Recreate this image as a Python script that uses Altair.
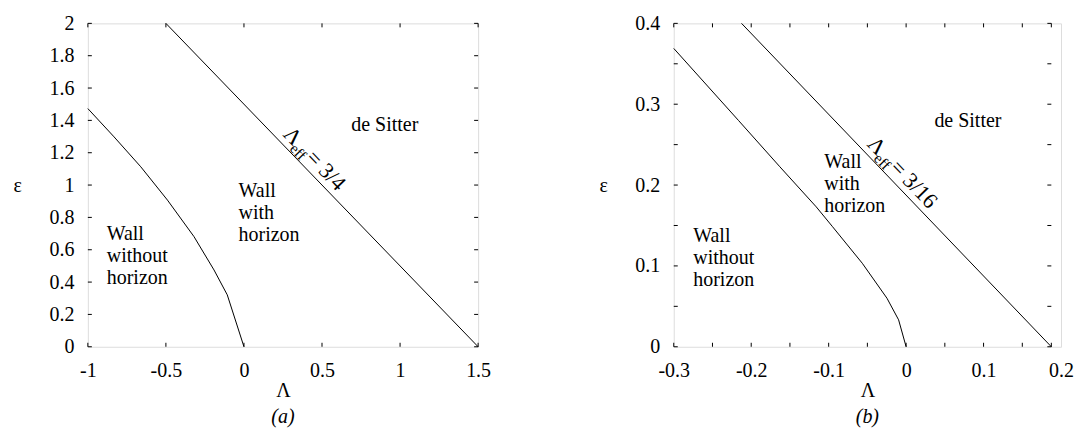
import altair as alt
import pandas as pd

F = "Liberation Serif, Times New Roman, Times, DejaVu Serif, serif"
FS = 20

# ---------------- Panel (a) data ----------------
a_curve_lam = [-1.0, -0.832, -0.661, -0.490, -0.320, -0.192, -0.107, 0.0]
a_curve_eps = [1.473, 1.298, 1.113, 0.907, 0.681, 0.475, 0.321, 0.0]
a_eff_lam = [-0.5, 1.5]
a_eff_eps = [2.0, 0.0]
a_xdom = [-1.0, 1.5]
a_ydom = [0.0, 2.0]
a_xticks = [-1.0, -0.5, 0.0, 0.5, 1.0, 1.5]
a_yticks = [0.0, 0.2, 0.4, 0.6, 0.8, 1.0, 1.2, 1.4, 1.6, 1.8, 2.0]
a_xlabels = [-1.0, -0.5, 0.0, 0.5, 1.0, 1.5]
a_ylabels = [0.0, 0.2, 0.4, 0.6, 0.8, 1.0, 1.2, 1.4, 1.6, 1.8, 2.0]
a_region_text = ["Wall\nwithout\nhorizon", "Wall\nwith\nhorizon"]
a_region_lam = [-0.879, -0.0345]
a_region_eps = [0.660, 0.926]
a_sitter_lam = [0.902]
a_sitter_eps = [1.335]
a_rot_lam = [0.217]
a_rot_eps = [1.283]
a_rot_rest = "= 3/4"

# ---------------- Panel (b) data ----------------
b_curve_lam = [-0.3, -0.2165, -0.163, -0.116, -0.095, -0.0566, -0.0247, -0.0097, 0.0]
b_curve_eps = [0.369, 0.280, 0.2226, 0.173, 0.1485, 0.1033, 0.060, 0.0333, 0.0]
b_eff_lam = [-0.2125, 0.1875]
b_eff_eps = [0.4, 0.0]
b_xdom = [-0.3, 0.2]
b_ydom = [0.0, 0.4]
b_xedge = 0.1875
b_xticks = [-0.3, -0.25, -0.2, -0.15, -0.1, -0.05, 0.0, 0.05, 0.1, 0.15, 0.1875]
b_yticks = [0.0, 0.05, 0.1, 0.15, 0.2, 0.25, 0.3, 0.35, 0.4]
b_xlabels = [-0.3, -0.2, -0.1, 0.0, 0.1, 0.2]
b_ylabels = [0.0, 0.1, 0.2, 0.3, 0.4]
b_region_text = ["Wall\nwithout\nhorizon", "Wall\nwith\nhorizon"]
b_region_lam = [-0.2748, -0.1056]
b_region_eps = [0.130, 0.2206]
b_sitter_lam = [0.0798]
b_sitter_eps = [0.2716]
b_rot_lam = [-0.057]
b_rot_eps = [0.2445]
b_rot_rest = "= 3/16"

H = 324
ANGLE = 46
LABEL_EXPR = "datum.value < 0 ? '-' + format(-datum.value, '~g') : format(datum.value, '~g')"


def make_panel(width, curve_lam, curve_eps, eff_lam, eff_eps, xdom, ydom, xright,
               xticks, yticks, xlabels, ylabels,
               region_text, region_lam, region_eps,
               sitter_lam, sitter_eps, rot_lam, rot_eps, rot_rest, caption):
    xs = alt.Scale(domain=xdom, nice=False, zero=False)
    ys = alt.Scale(domain=ydom, nice=False, zero=False)
    xaxis = alt.Axis(values=xlabels, ticks=False, tickSize=0, domain=False, grid=False,
                     labelFont=F, labelFontSize=FS, labelColor="black", labelPadding=14,
                     labelFlush=False, labelOverlap=False, labelExpr=LABEL_EXPR,
                     title="Λ", titleFont=F, titleFontSize=FS, titleFontWeight="normal",
                     titleColor="black", titlePadding=0)
    yaxis = alt.Axis(values=ylabels, ticks=False, tickSize=0, domain=False, grid=False,
                     labelFont=F, labelFontSize=FS, labelColor="black", labelPadding=14,
                     labelFlush=False, labelOverlap=False, labelExpr=LABEL_EXPR,
                     title="ε", titleFont=F, titleFontSize=FS, titleFontWeight="normal",
                     titleColor="black", titleAngle=0, titleX=-75, titleY=H / 2,
                     titleAlign="left", titleBaseline="middle")

    def X(f):
        return alt.X(f, type="quantitative", scale=xs, axis=xaxis)

    def Y(f):
        return alt.Y(f, type="quantitative", scale=ys, axis=yaxis)

    rows = []
    for l, e in zip(curve_lam, curve_eps):
        rows.append({"lam": l, "eps": e, "s": "boundary"})
    for l, e in zip(eff_lam, eff_eps):
        rows.append({"lam": l, "eps": e, "s": "eff"})
    lines = alt.Chart(pd.DataFrame(rows)).mark_line(color="black", strokeWidth=1).encode(
        x=X("lam"), y=Y("eps"), detail="s:N")

    bottom = pd.DataFrame({"lam": xticks, "eps": [ydom[0]] * len(xticks)})
    top = pd.DataFrame({"lam": xticks, "eps": [ydom[1]] * len(xticks)})
    left = pd.DataFrame({"lam": [xdom[0]] * len(yticks), "eps": yticks})
    right = pd.DataFrame({"lam": [xright] * len(yticks), "eps": yticks})

    def tick(df, **off):
        return alt.Chart(df).mark_rule(color="black", strokeWidth=1, **off).encode(
            x=X("lam"), y=Y("eps"), x2="lam:Q", y2="eps:Q")

    ticks = [tick(bottom, y2Offset=-4), tick(top, y2Offset=4),
             tick(left, x2Offset=4), tick(right, x2Offset=-4)]

    regions = alt.Chart(pd.DataFrame({"lam": region_lam, "eps": region_eps, "t": region_text})).mark_text(
        align="left", baseline="alphabetic", lineBreak="\n", lineHeight=22,
        font=F, fontSize=FS, color="black").encode(x=X("lam"), y=Y("eps"), text="t:N")

    sitter = alt.Chart(pd.DataFrame({"lam": sitter_lam, "eps": sitter_eps, "t": ["de Sitter"]})).mark_text(
        align="center", baseline="alphabetic", font=F, fontSize=FS, color="black").encode(
        x=X("lam"), y=Y("eps"), text="t:N")

    rot_df = pd.DataFrame({"lam": rot_lam, "eps": rot_eps, "a": ["Λ"], "b": ["eff"], "c": [rot_rest]})
    rot1 = alt.Chart(rot_df).mark_text(align="left", baseline="alphabetic", angle=ANGLE, dy=-6,
                                       font=F, fontSize=22, color="black").encode(
        x=X("lam"), y=Y("eps"), text="a:N")
    rot2 = alt.Chart(rot_df).mark_text(align="left", baseline="alphabetic", angle=ANGLE, dx=15, dy=-1,
                                       font=F, fontSize=15, color="black").encode(
        x=X("lam"), y=Y("eps"), text="b:N")
    rot3 = alt.Chart(rot_df).mark_text(align="left", baseline="alphabetic", angle=ANGLE, dx=33, dy=-6,
                                       font=F, fontSize=22, color="black").encode(
        x=X("lam"), y=Y("eps"), text="c:N")

    return alt.layer(lines, *ticks, regions, sitter, rot1, rot2, rot3).properties(
        width=width, height=H,
        title=alt.Title(caption, orient="bottom", font=F, fontSize=FS, fontStyle="italic",
                        fontWeight="normal", color="black", offset=6))


pa = make_panel(391, a_curve_lam, a_curve_eps, a_eff_lam, a_eff_eps, a_xdom, a_ydom, a_xdom[1],
                a_xticks, a_yticks, a_xlabels, a_ylabels,
                a_region_text, a_region_lam, a_region_eps,
                a_sitter_lam, a_sitter_eps, a_rot_lam, a_rot_eps, a_rot_rest, "(a)")
pb = make_panel(388, b_curve_lam, b_curve_eps, b_eff_lam, b_eff_eps, b_xdom, b_ydom, b_xedge,
                b_xticks, b_yticks, b_xlabels, b_ylabels,
                b_region_text, b_region_lam, b_region_eps,
                b_sitter_lam, b_sitter_eps, b_rot_lam, b_rot_eps, b_rot_rest, "(b)")

chart = alt.hconcat(pa, pb, spacing=107).properties(
    padding={"left": 4, "top": 4, "right": 0, "bottom": 0}
).configure_view(stroke=None).configure(background="white")

chart.save("out.html", embed_options={"renderer": "svg", "actions": False})
